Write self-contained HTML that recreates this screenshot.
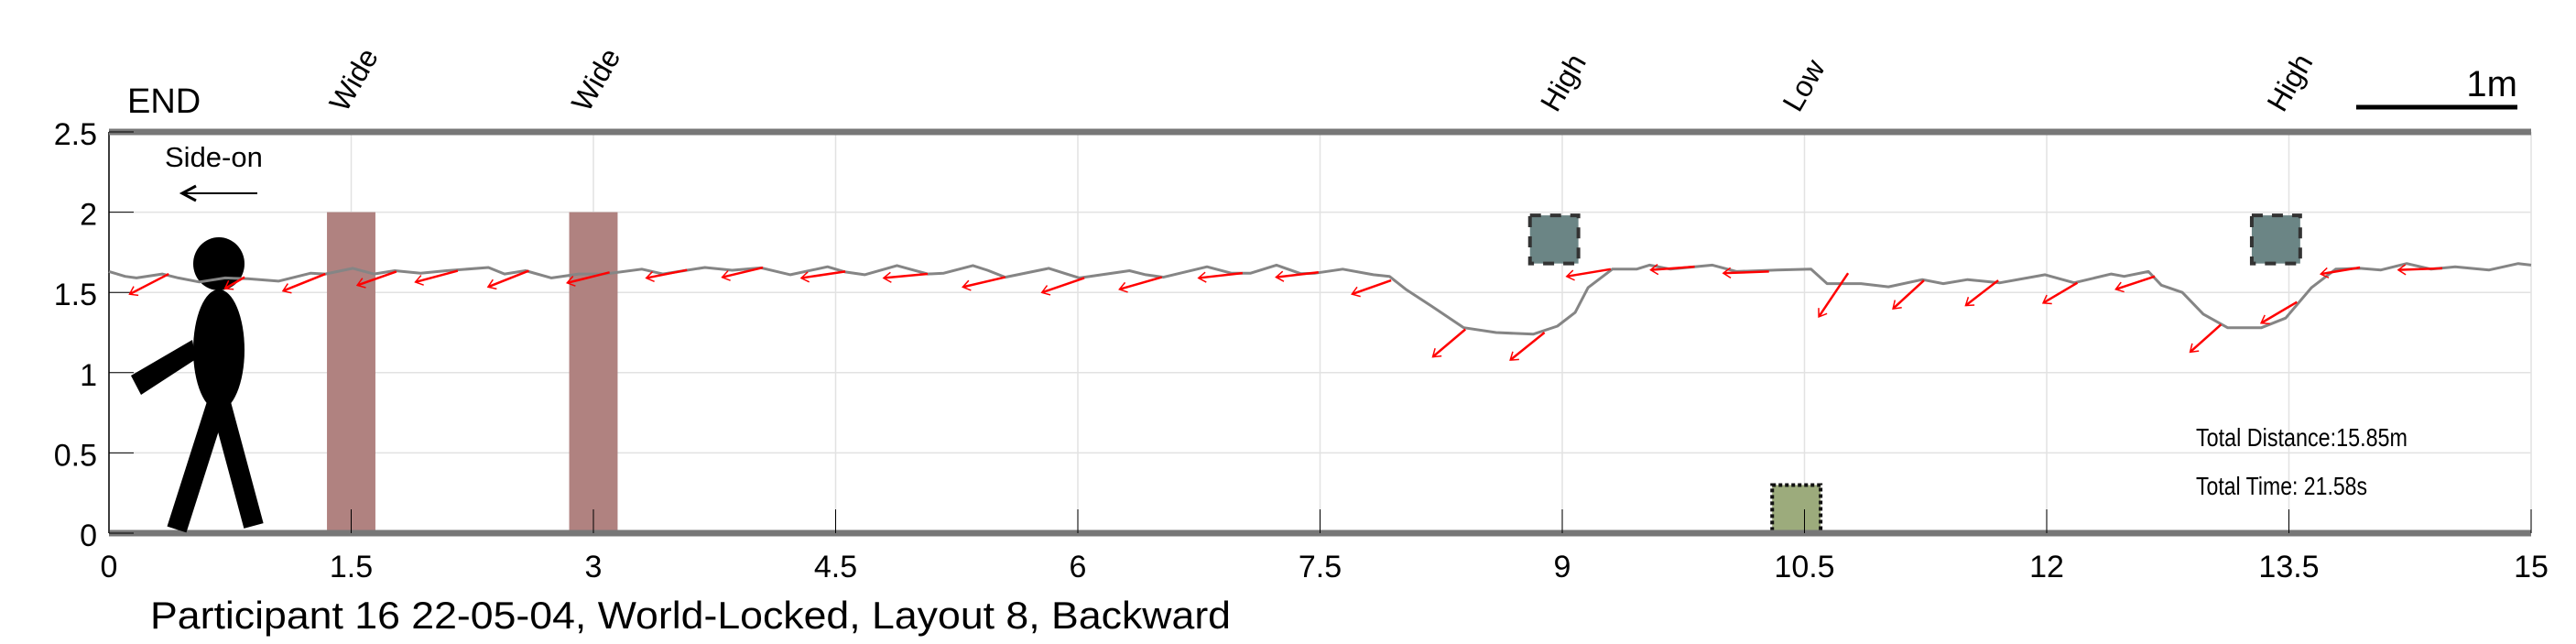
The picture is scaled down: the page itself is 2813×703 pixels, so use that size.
<!DOCTYPE html>
<html><head><meta charset="utf-8"><style>
html,body{margin:0;padding:0;background:#fff;}
svg{display:block;}
text{font-family:"Liberation Sans",sans-serif;}
</style></head><body>
<svg id="chart" width="2813" height="703" viewBox="0 0 2813 703" xmlns="http://www.w3.org/2000/svg">
<defs>
<marker id="ah" viewBox="0 0 10 10" refX="9" refY="5" markerWidth="5" markerHeight="5" orient="auto" markerUnits="userSpaceOnUse" style="overflow:visible">
<path d="M-6,-6 L10,5 L-6,16" fill="none" stroke="#ff0000" stroke-width="3"/>
</marker>
</defs>
<rect x="0" y="0" width="2813" height="703" fill="#fff"/>
<g id="grid"></g>
<g id="obstacles"></g>
<g id="axes"></g>
<g id="person">
  <ellipse cx="239" cy="288" rx="28" ry="29" fill="#000"/>
  <ellipse cx="239" cy="382" rx="28" ry="66" fill="#000"/>
  <polygon points="143,410 154,431 214,392 210,371" fill="#000"/>
  <line x1="237" y1="440" x2="193" y2="578" stroke="#000" stroke-width="22"/>
  <line x1="241" y1="440" x2="277" y2="574" stroke="#000" stroke-width="22"/>
</g>
<g id="series"></g>
<g id="labels">
  <text x="139" y="123" font-size="38">END</text>
  <text x="180" y="182" font-size="31">Side-on</text>
  <line x1="281" y1="211" x2="202" y2="211" stroke="#000" stroke-width="2"/>
  <path d="M214,203 L199,211 L214,219" fill="none" stroke="#000" stroke-width="3"/>
  <line x1="2573" y1="117" x2="2749" y2="117" stroke="#000" stroke-width="5"/>
  <text x="2749" y="105" font-size="40" text-anchor="end">1m</text>
  <text x="2398" y="487" font-size="28" textLength="231" lengthAdjust="spacingAndGlyphs">Total Distance:15.85m</text>
  <text x="2398" y="540" font-size="28" textLength="187" lengthAdjust="spacingAndGlyphs">Total Time: 21.58s</text>
  <text x="164" y="686" font-size="42" textLength="1180" lengthAdjust="spacingAndGlyphs">Participant 16 22-05-04, World-Locked, Layout 8, Backward</text>
</g>
</svg>
<script>
// ---- data ----
const xTicks = [0, 1.5, 3, 4.5, 6, 7.5, 9, 10.5, 12, 13.5, 15];
const xTickLabels = ["0","1.5","3","4.5","6","7.5","9","10.5","12","13.5","15"];
const yTicks = [0, 0.5, 1, 1.5, 2, 2.5];
const yTickLabels = ["0","0.5","1","1.5","2","2.5"];
const pathX = [0,0.10,0.17,0.33,0.43,0.56,0.72,0.86,1.05,1.25,1.34,1.51,1.64,1.77,1.93,2.09,2.35,2.45,2.58,2.74,2.91,3.07,3.30,3.43,3.69,3.86,4.04,4.22,4.45,4.56,4.68,4.88,5.07,5.17,5.35,5.44,5.55,5.82,5.93,6.01,6.32,6.42,6.53,6.80,6.95,7.07,7.23,7.38,7.47,7.64,7.83,7.93,8.03,8.19,8.39,8.59,8.82,8.97,9.08,9.16,9.31,9.46,9.54,9.67,9.93,10.08,10.33,10.54,10.64,10.85,11.02,11.23,11.36,11.51,11.71,11.99,12.17,12.40,12.48,12.63,12.71,12.84,12.97,13.12,13.33,13.48,13.64,13.79,13.94,14.07,14.23,14.38,14.53,14.74,14.92,15];
const pathY = [1.63,1.60,1.59,1.615,1.59,1.565,1.59,1.585,1.57,1.62,1.615,1.65,1.615,1.635,1.62,1.635,1.655,1.615,1.635,1.59,1.615,1.615,1.645,1.615,1.655,1.638,1.653,1.61,1.66,1.627,1.61,1.667,1.615,1.62,1.667,1.638,1.595,1.65,1.615,1.59,1.635,1.61,1.595,1.66,1.62,1.62,1.67,1.617,1.62,1.645,1.61,1.60,1.52,1.415,1.28,1.25,1.24,1.29,1.375,1.53,1.645,1.645,1.67,1.645,1.67,1.63,1.64,1.645,1.555,1.555,1.535,1.58,1.555,1.58,1.56,1.61,1.56,1.615,1.60,1.63,1.545,1.50,1.365,1.28,1.28,1.34,1.53,1.645,1.65,1.64,1.68,1.645,1.66,1.64,1.68,1.67];
const arrowX = [0.37,0.84,1.34,1.78,2.16,2.60,3.10,3.58,4.05,4.56,5.07,5.55,6.04,6.52,7.02,7.49,7.94,8.40,8.89,9.30,9.82,10.28,10.77,11.24,11.70,12.19,12.67,13.08,13.55,13.94,14.45];
const arrowY = [1.615,1.595,1.615,1.63,1.635,1.635,1.625,1.64,1.655,1.63,1.615,1.595,1.59,1.595,1.62,1.625,1.575,1.27,1.25,1.645,1.66,1.63,1.62,1.575,1.575,1.56,1.60,1.30,1.44,1.655,1.65];
const arrowU = [-0.24,-0.12,-0.26,-0.24,-0.26,-0.25,-0.26,-0.25,-0.25,-0.27,-0.27,-0.26,-0.26,-0.26,-0.27,-0.26,-0.24,-0.20,-0.21,-0.27,-0.27,-0.28,-0.18,-0.19,-0.20,-0.21,-0.24,-0.19,-0.22,-0.24,-0.27];
const arrowV = [-0.125,-0.07,-0.105,-0.085,-0.07,-0.10,-0.065,-0.05,-0.06,-0.04,-0.025,-0.061,-0.09,-0.075,-0.03,-0.03,-0.085,-0.17,-0.17,-0.045,-0.02,-0.01,-0.27,-0.175,-0.155,-0.125,-0.08,-0.17,-0.13,-0.04,-0.01];
const wideCenters = [1.5, 3.0];
const highCenters = [8.95, 13.42];
const lowCenters = [10.45];
const obstacleLabels = ["Wide","Wide","High","Low","High"];
const obstacleLabelX = [1.5, 3.0, 9.0, 10.5, 13.5];

// ---- scales ----
const X0=119, X1=2764, Y0=582, Y1=144;
function sx(v){return X0+(v-0)/(15-0)*(X1-X0);}
function sy(v){return Y0-(v-0)/(2.5-0)*(Y0-Y1);}
const NS="http://www.w3.org/2000/svg";
function mk(tag, parent, attrs){const e=document.createElementNS(NS,tag);for(const k in attrs)e.setAttribute(k,attrs[k]);parent.appendChild(e);return e;}

const grid=document.getElementById('grid');
xTicks.forEach((t,i)=>{
  const l=mk('line',grid,{x1:sx(t),x2:sx(t),y1:Y1,y2:Y0,stroke:'#e2e2e2','stroke-width':1.5});
  
  
});
yTicks.forEach((t,i)=>{
  const l=mk('line',grid,{x1:X0,x2:X1,y1:sy(t),y2:sy(t),stroke:'#e2e2e2','stroke-width':1.5});
  
  
});

const obs=document.getElementById('obstacles');
wideCenters.forEach(c=>{
  const r=mk('rect',obs,{x:sx(c-0.15),y:sy(2),width:sx(0.3)-sx(0),height:sy(0)-sy(2),fill:'#b08280'});
  
  
});
highCenters.forEach(c=>{
  const r=mk('rect',obs,{x:sx(c-0.15),y:sy(1.98),width:sx(0.3)-sx(0),height:sy(1.68)-sy(1.98),fill:'#6b8585',stroke:'#333','stroke-width':4,'stroke-dasharray':'12,10'});
  
  
});
lowCenters.forEach(c=>{
  const r=mk('rect',obs,{x:sx(c-0.15),y:sy(0.3),width:sx(0.3)-sx(0),height:sy(0)-sy(0.3),fill:'#9cab7c',stroke:'#111','stroke-width':4,'stroke-dasharray':'4,3'});
  
  
});

const ax=document.getElementById('axes');
let a=mk('line',ax,{x1:X0,x2:X0,y1:Y1,y2:Y0,stroke:'#000','stroke-width':1.5});


a=mk('line',ax,{x1:X0,x2:X1,y1:Y1,y2:Y1,stroke:'#777','stroke-width':7});


a=mk('line',ax,{x1:X0,x2:X1,y1:Y0,y2:Y0,stroke:'#777','stroke-width':7});


xTicks.forEach((t,i)=>{
  const l=mk('line',ax,{x1:sx(t),x2:sx(t),y1:Y0-26,y2:Y0,stroke:'#000','stroke-width':1});
  
  
  const tx=mk('text',ax,{x:sx(t),y:630,'font-size':34,'text-anchor':'middle'});
  tx.textContent=xTickLabels[i];
  
  
});
yTicks.forEach((t,i)=>{
  const l=mk('line',ax,{x1:X0,x2:X0+27,y1:sy(t),y2:sy(t),stroke:'#000','stroke-width':1});
  
  
  const tx=mk('text',ax,{x:106,y:sy(t)+14,'font-size':34,'text-anchor':'end'});
  tx.textContent=yTickLabels[i];
  
  
});

const ser=document.getElementById('series');
const pts=pathX.map((x,i)=>sx(x).toFixed(1)+','+sy(pathY[i]).toFixed(1)).join(' ');
const pl=mk('polyline',ser,{points:pts,fill:'none',stroke:'#858585','stroke-width':3,'stroke-linejoin':'round'});


arrowX.forEach((x,i)=>{
  const l=mk('line',ser,{x1:sx(x),y1:sy(arrowY[i]),x2:sx(x+arrowU[i]),y2:sy(arrowY[i]+arrowV[i]),stroke:'#ff0000','stroke-width':2.5,'marker-end':'url(#ah)'});
  
  
});

const lab=document.getElementById('labels');
obstacleLabels.forEach((s,i)=>{
  const x=sx(obstacleLabelX[i])-6, y=124;
  const t=mk('text',lab,{x:x,y:y,'font-size':32,transform:'rotate(-60 '+x+' '+y+')'});
  t.textContent=s;
  
  
});
</script>
</body></html>
